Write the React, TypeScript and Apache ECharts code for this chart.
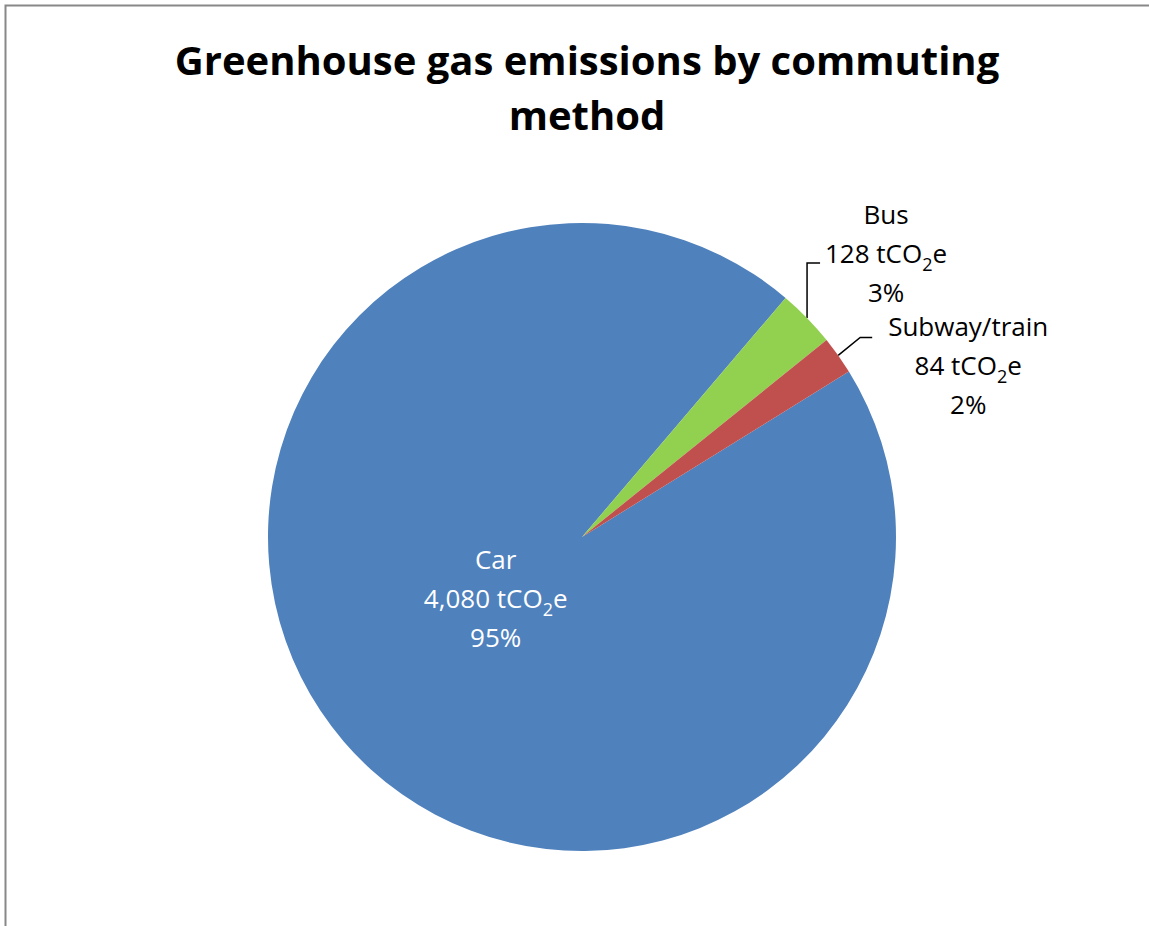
import React, { useEffect, useRef } from "react";
import * as echarts from "echarts";

const titleText = "Greenhouse gas emissions by commuting\nmethod";
const categories = ["Car", "Bus", "Subway/train"];
const values = [4080, 128, 84];
const colors = ["#4F81BD", "#92D050", "#C0504D"];
const unit = "tCO";

const FONT = "Open Sans";

export default function App() {
  const ref = useRef<HTMLDivElement>(null);
  useEffect(() => {
    if (!ref.current) return;
    const chart = echarts.init(ref.current, undefined, { renderer: "svg" });
    const mkRich = (color: string) => ({
      n: { fontFamily: FONT, fontSize: 26, lineHeight: 39, color },
      s: { fontFamily: FONT, fontSize: 18, lineHeight: 22, color, verticalAlign: "bottom" },
    });
    const data = categories.map((name, i) => ({
      name,
      value: values[i],
      itemStyle: { color: colors[i] },
      label: i === 0
        ? { position: "inside", rich: mkRich("#ffffff") }
        : { position: "outside", rich: mkRich("#000000") },
      labelLine: i === 0 ? { show: false } : { show: true },
    }));
    chart.setOption({
      animation: false,
      title: {
        text: titleText,
        left: 582,
        top: 27,
        textAlign: "center",
        textStyle: { fontFamily: FONT, fontWeight: "bold", fontSize: 40, lineHeight: 55, color: "#000" },
      },
      graphic: [
        {
          type: "rect",
          shape: { x: 5.5, y: 5.5, width: 1300, height: 1000 },
          style: { fill: "none", stroke: "#888888", lineWidth: 2 },
          silent: true,
        },
      ],
      series: [
        {
          type: "pie",
          center: [582, 537],
          radius: 314,
          startAngle: 31.8,
          clockwise: true,
          avoidLabelOverlap: false,
          percentPrecision: 0,
          label: {
            show: true,
            formatter: (p: any) =>
              `{n|${p.name}}\n{n|${p.value.toLocaleString("en-US")} ${unit}}{s|2}{n|e}\n{n|${Math.round(p.percent)}%}`,
            align: "center",
          },
          labelLine: { show: true, length: 20, length2: 12, lineStyle: { color: "#000", width: 1.5 } },
          labelLayout: (p: any) => {
            const pts = p.labelLinePoints;
            if (p.dataIndex === 0) {
              return { dx: 35, dy: -43, align: "center", verticalAlign: "middle" };
            }
            if (!pts) return {};
            const [x0, y0] = pts[0];
            if (p.dataIndex === 1) {
              return {
                x: x0 + 79,
                y: y0 - 65,
                align: "center",
                verticalAlign: "middle",
                labelLinePoints: [[x0, y0], [x0, y0 - 55], [x0 + 13, y0 - 55]],
              };
            }
            return {
              x: x0 + 130,
              y: y0 + 10,
              align: "center",
              verticalAlign: "middle",
              labelLinePoints: [[x0, y0], [x0 + 22, y0 - 18], [x0 + 34, y0 - 18]],
            };
          },
          data,
        },
      ],
    });
    return () => chart.dispose();
  }, []);
  return (
    <div
      ref={ref}
      style={{ position: "fixed", left: 0, top: 0, width: 1149, height: 926, background: "#fff" }}
    />
  );
}
